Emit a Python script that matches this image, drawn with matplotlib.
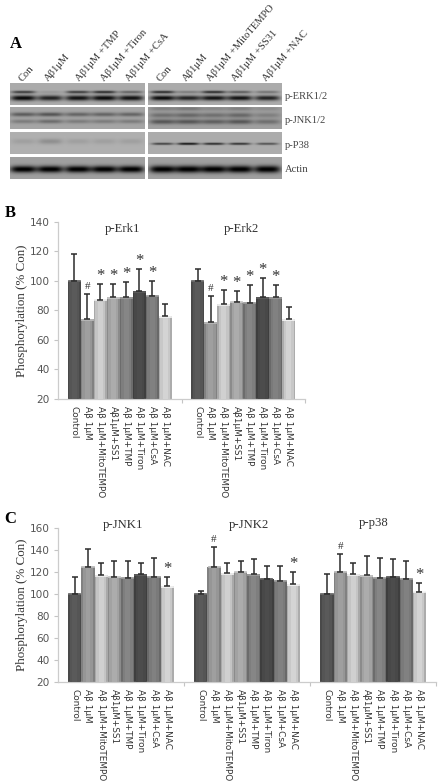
import numpy as np
import matplotlib
matplotlib.use("Agg")
import matplotlib.pyplot as plt

W, H = 440, 782
SERIF = "Liberation Serif"

labels = ["Control", "Aβ 1μM", "Aβ 1μM+MitoTEMPO", "Aβ1μM+SS1", "Aβ 1μM+TMP",
          "Aβ 1μM+Tiron", "Aβ 1μM+CsA", "Aβ 1μM+NAC"]
bar_colors = ["#555555", "#969696", "#c4c4c4", "#a2a2a2", "#7e7e7e", "#484848", "#7a7a7a", "#c8c8c8"]

erk1 = [100, 74, 87, 89, 89, 93, 90, 76]
erk1_top = [118, 91, 98, 98, 99, 108, 100, 84]
erk1_marks = ["", "#", "*", "*", "*", "*", "*", ""]
erk2 = [100, 72, 84, 86, 85, 89, 89, 74]
erk2_top = [108, 90, 94, 93, 97, 102, 97, 82]
erk2_marks = ["", "#", "*", "*", "*", "*", "*", ""]

jnk1 = [100, 125, 117, 116, 115, 118, 116, 107]
jnk1_top = [116, 141, 128, 130, 130, 128, 133, 116]
jnk1_marks = ["", "", "", "", "", "", "", "*"]
jnk2 = [100, 125, 119, 120, 118, 114, 112, 109]
jnk2_top = [103, 143, 128, 130, 132, 126, 126, 120]
jnk2_marks = ["", "#", "", "", "", "", "", "*"]
p38 = [100, 120, 118, 117, 115, 116, 114, 102]
p38_top = [118, 137, 128, 135, 133, 132, 130, 110]
p38_marks = ["", "#", "", "", "", "", "", "*"]

# blot band strengths, one value per lane
lanes_left = [13.3, 40, 67.7, 94, 120.7]
lanes_right = [14.5, 40, 65.5, 91.5, 119]
erk_up_l = [0.7, 0.12, 0.7, 0.8, 0.45]
erk_lo_l = [1.0, 0.85, 0.95, 1.0, 0.95]
erk_up_r = [0.8, 0.3, 0.8, 0.5, 0.35]
erk_lo_r = [1.0, 0.85, 0.95, 0.95, 0.85]
jnk_up_l = [0.45, 0.5, 0.4, 0.4, 0.4]
jnk_lo_l = [0.25, 0.35, 0.25, 0.25, 0.25]
jnk_top_r = [0.2, 0.25, 0.15, 0.2, 0.12]
jnk_up_r = [0.3, 0.35, 0.3, 0.35, 0.2]
jnk_lo_r = [0.45, 0.45, 0.4, 0.45, 0.3]
p38_l = [0.1, 0.2, 0.1, 0.1, 0.1]
p38_r = [0.7, 1.0, 0.85, 0.8, 0.6]
actin_l = [1.0, 1.0, 1.0, 1.0, 1.0]
actin_r = [1.0, 1.0, 1.0, 1.0, 1.0]

top_labels = ["Con", "Aβ1μM", "Aβ1μM +TMP", "Aβ1μM +Tiron", "Aβ1μM +CsA",
              "Con", "Aβ1μM", "Aβ1μM +MitoTEMPO", "Aβ1μM +SS31", "Aβ1μM +NAC"]
top_label_x = [21, 46, 78, 103, 128, 159, 184, 209, 234, 265]
row_names = ["p-ERK1/2", "p-JNK1/2", "p-P38", "Actin"]


def px_axes(fig, left, top, right, bottom):
    return fig.add_axes([left / W, 1 - bottom / H, (right - left) / W, (bottom - top) / H])


def blot(fig, left, top, right, bottom, lanes, bands, bg=172):
    # bands: (strength per lane, y position, half height, half width)
    h, w = int(bottom - top) * 2, int(right - left) * 2
    yy, xx = np.mgrid[0:h, 0:w] / 2.0
    dark = np.zeros((h, w))
    for strengths, yc, sy, sx in bands:
        for c, s in zip(lanes, strengths):
            dark += s * np.exp(-((yy - yc) / sy) ** 2 - (np.abs(xx - c) / sx) ** 4)
    img = bg - 165 * np.clip(dark, 0, 1)
    ax = px_axes(fig, left, top, right, bottom)
    ax.imshow(img, cmap="gray", vmin=0, vmax=255, aspect="auto", interpolation="bilinear")
    ax.axis("off")


def bars(ax, values, tops, marks, group, step):
    x = [group * step + i for i in range(8)]
    # stacked strips give the shaded look of the bars
    for i in range(8):
        c = np.array(matplotlib.colors.to_rgb(bar_colors[i]))
        ax.bar(x[i], values[i], width=1.0, color=c * 0.86, zorder=2)
        ax.bar(x[i], values[i] - 0.5, width=0.76, color=c, zorder=3)
        ax.bar(x[i], values[i] - 1.0, width=0.36, color=np.minimum(c * 1.06, 1), zorder=3)
        ax.plot([x[i] - 0.42, x[i] + 0.42], [values[i] - 0.3] * 2, color=np.minimum(c * 1.18 + 0.03, 1),
                lw=1.3, zorder=4)
    up = [t - v for t, v in zip(tops, values)]
    ax.errorbar(x, values, yerr=[[0] * 8, up], fmt="none", ecolor="#2b2b2b", elinewidth=1.1,
                capsize=2.4, capthick=1.1, zorder=5)
    for i in range(8):
        if marks[i]:
            size = 12 if marks[i] == "*" else 8
            off = 0 if marks[i] == "*" else 2
            ax.annotate(marks[i], (x[i], tops[i]), xytext=(0, off), textcoords="offset points",
                        ha="center", va="bottom", fontsize=size, family=SERIF, color="#333333")
    return x


def panel(fig, box, series, titles, title_x, title_y, ylim, yticks, x_left, step, x_right):
    ax = px_axes(fig, *box)
    ticks = []
    for g, (v, t, m) in enumerate(series):
        ticks += bars(ax, v, t, m, g, step)
    ax.set_xlim(x_left, x_right)
    ax.set_ylim(*ylim)
    ax.set_yticks(yticks)
    ax.set_xticks(ticks)
    ax.set_xticklabels(labels * len(series), rotation=-90, fontsize=6.4, family="DejaVu Sans", color="#333333")
    ax.tick_params(axis="x", length=0, pad=5)
    ax.tick_params(axis="y", length=3, width=0.8, color="#c4c4c4", labelsize=7.6, labelcolor="#555555", pad=3)
    ax.set_xticks([(g + 1) * step + x_left for g in range(len(series) - 1)] + [x_right], minor=True)
    ax.tick_params(axis="x", which="minor", length=3, width=0.8, color="#c4c4c4")
    for s in ["top", "right"]:
        ax.spines[s].set_visible(False)
    for s in ["left", "bottom"]:
        ax.spines[s].set_color("#cccccc")
        ax.spines[s].set_linewidth(0.9)
    for tx, ty, tt in zip(title_x, title_y, titles):
        fig.text(tx / W, 1 - ty / H, tt, ha="center", va="center", family=SERIF, fontsize=9.2, color="#333333")
    fig.text(22 / W, 1 - (box[1] + box[3]) / 2 / H, "Phosphorylation (% Con)", rotation=90, ha="center",
             va="center", family=SERIF, fontsize=9.4, color="#333333")


fig = plt.figure(figsize=(W / 100, H / 100), dpi=100)

# panel A
blot(fig, 10, 83, 145, 105, lanes_left, [(erk_up_l, 8.8, 1.3, 12), (erk_lo_l, 14.8, 2.6, 12.5)])
blot(fig, 148, 83, 282, 105, lanes_right, [(erk_up_r, 8.8, 1.3, 12), (erk_lo_r, 14.8, 2.4, 12.5)])
blot(fig, 10, 107, 145, 129, lanes_left, [(jnk_up_l, 7.2, 2.0, 13), (jnk_lo_l, 14.2, 2.0, 13)], bg=165)
blot(fig, 148, 107, 282, 129, lanes_right, [(jnk_top_r, 1.5, 2.0, 13), (jnk_up_r, 8, 2.4, 13), (jnk_lo_r, 14.5, 2.4, 13)], bg=160)
blot(fig, 10, 132, 145, 154, lanes_left, [(p38_l, 9.7, 2.6, 12)], bg=176)
blot(fig, 148, 132, 282, 154, lanes_right, [(p38_r, 12, 1.0, 11)], bg=172)
blot(fig, 10, 157, 145, 179, lanes_left, [(actin_l, 12, 3.4, 13)], bg=160)
blot(fig, 148, 157, 282, 179, lanes_right, [(actin_r, 12, 3.6, 13)], bg=160)

for lx, lt in zip(top_label_x, top_labels):
    fig.text(lx / W, 1 - 80 / H, lt, rotation=49, rotation_mode="anchor", ha="left", va="center",
             family=SERIF, fontsize=7.6, color="#333333")
for ry, rt in zip([96.5, 120.5, 145, 170], row_names):
    fig.text(285 / W, 1 - ry / H, rt, ha="left", va="center", family=SERIF, fontsize=7.6, color="#444444")

fig.text(10 / W, 1 - 44 / H, "A", family=SERIF, weight="bold", fontsize=12, ha="left", va="center")
fig.text(5 / W, 1 - 213 / H, "B", family=SERIF, weight="bold", fontsize=12, ha="left", va="center")
fig.text(4 / W, 1 - 519 / H, "C", family=SERIF, weight="bold", fontsize=12, ha="left", va="center")

panel(fig, (58, 222, 305, 398.7),
      [(erk1, erk1_top, erk1_marks), (erk2, erk2_top, erk2_marks)],
      ["p-Erk1", "p-Erk2"], [122, 241], [229, 229], (20, 140), range(20, 141, 20),
      -1.25, 9.5, 17.75)
panel(fig, (58, 528.3, 435.7, 681.7),
      [(jnk1, jnk1_top, jnk1_marks), (jnk2, jnk2_top, jnk2_marks), (p38, p38_top, p38_marks)],
      ["p-JNK1", "p-JNK2", "p-p38"], [123, 249, 374], [525, 525, 523], (20, 160), range(20, 161, 20),
      -1.27, 9.55, 27.33)

fig.savefig("out.png", dpi=100)
